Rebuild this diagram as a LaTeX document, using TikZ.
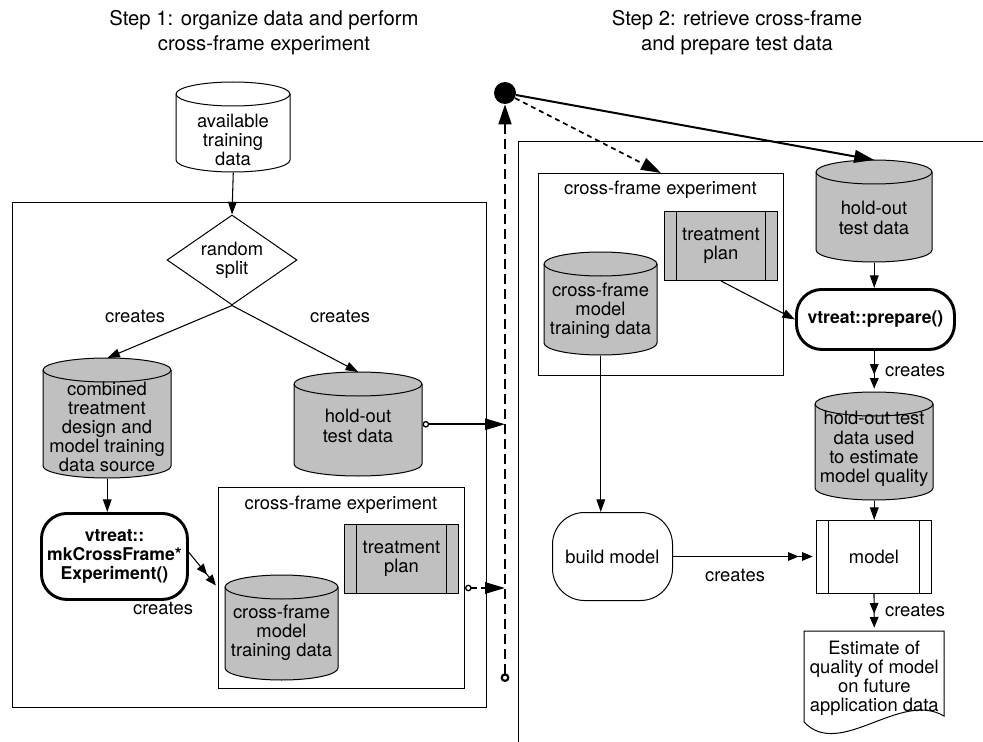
\documentclass[tikz,border=0pt]{standalone}
\usepackage{fontspec}
\setmainfont{TeX Gyre Heros}
\usetikzlibrary{arrows.meta,shapes.geometric,calc}

\definecolor{storegray}{RGB}{192,192,192}

% rectangle node given by its corners in pixel units
\newcommand\pxnode[7]{%
  \pgfmathsetmacro\pxw{(#4-#2)*0.75}%
  \pgfmathsetmacro\pxh{(#5-#3)*0.75}%
  \node[#6, minimum width=\pxw pt, minimum height=\pxh pt, anchor=north west] (#1) at (#2,#3) {#7};%
}

% data store (cylinder): name, x1, top, x2, bottom, fill, text y, text
\newcommand\store[8]{%
  \pgfmathsetmacro\strx{(#4-#2)/2}%
  \pgfmathsetmacro\stcx{(#4+#2)/2}%
  \draw[frame, fill=#6] (#2,#3+12) -- (#2,#5-12)
     arc[start angle=180, end angle=0, x radius=\strx, y radius=12]
     -- (#4,#3+12)
     arc[start angle=0, end angle=-180, x radius=\strx, y radius=12] -- cycle;
  \draw[frame] (#2,#3+12) arc[start angle=180, end angle=0, x radius=\strx, y radius=12];
  \pxnode{#1}{#2}{#3}{#4}{#5}{}{}%
  \node (#1-text) at (\stcx,#7) {#8};%
}

\tikzset{
  every node/.style={inner sep=0pt, align=center, font=\fontsize{13.8}{14.4}\selectfont},
  heading/.style={font=\fontsize{15.2}{18.75}\selectfont},
  frame/.style={draw=black, line width=0.75pt},
  action/.style={draw=black, line width=2.2pt, rounded corners=19pt, fill=white,
    font=\bfseries\fontsize{13.2}{14.6}\selectfont},
  subproc/.style={frame, path picture={
    \draw[line width=0.75pt]
      ([xshift=9pt]path picture bounding box.north west) -- ([xshift=9pt]path picture bounding box.south west)
      ([xshift=-9pt]path picture bounding box.north east) -- ([xshift=-9pt]path picture bounding box.south east);}},
  flow/.style={line width=0.8pt, -{Triangle[length=9.5pt,width=6.5pt]}},
  makes/.style={line width=0.8pt,
    -{Triangle[length=8pt,width=6.5pt,sep=2.5pt] Triangle[length=8pt,width=6.5pt,sep=2.5pt]}},
  feed/.style={line width=1.5pt,
    {Circle[open,length=5pt,line width=1pt,sep=0pt]}-{Triangle[length=15pt,width=8.5pt]}},
  bus/.style={line width=1.9pt, dash pattern=on 7.5pt off 3.75pt,
    {Circle[open,length=6.5pt,line width=1.6pt]}-{Triangle[length=15pt,width=9.5pt]}},
  relay/.style={line width=1.3pt, dash pattern=on 3.75pt off 3pt, -{Triangle[length=15pt,width=9.5pt]}},
  fetch/.style={line width=1.5pt, -{Triangle[length=15pt,width=9.5pt]}},
}

\begin{document}
\begin{tikzpicture}[x=0.75pt,y=-0.75pt]
\fill[white] (0,0) rectangle (983,742);
\useasboundingbox (0,0) rectangle (983,742);

% headings
\node[heading] (head1) at (264,33) {Step 1: organize data and perform\\cross-frame experiment};
\node[heading] (head2) at (737,33) {Step 2: retrieve cross-frame\\and prepare test data};

% step frames
\pxnode{stepA}{12}{202}{486}{707}{frame}{}
\begin{scope}
  \clip (0,0) rectangle (983,742);
  \pxnode{stepB}{518}{141}{1000}{760}{frame}{}
\end{scope}

% ---------- step 1 ----------
\store{avail}{176}{82}{290}{172}{white}{140}{available\\training\\data}
\node[diamond, frame, fill=white, aspect=1.44, minimum width=97.5pt, minimum height=67.5pt]
  (split) at (232,260) {random\\split};

\store{comb}{43}{358}{171}{478}{storegray}{427}{combined\\treatment\\design and\\model training\\data source}
\store{holdL}{294}{372}{422}{476}{storegray}{426}{hold-out\\test data}

\pxnode{mk}{40}{512}{186}{598}{action}{vtreat::\\mkCrossFrame*\\Experiment()}

\pxnode{cfL}{218}{487}{464}{688}{frame}{}
\node (cfL-title) at (341,505) {cross-frame experiment};
\pxnode{trtL}{344}{524}{458}{593}{subproc, fill=storegray}{treatment\\plan}
\store{cfcL}{225}{575}{338}{680}{storegray}{633}{cross-frame\\model\\training data}

\node (lblA) at (135,316) {creates};
\node (lblB) at (340,316) {creates};
\node (lblC) at (163,608) {creates};

\draw[flow] (avail.south) -- (split.north);
\draw[flow] (split.south) -- (comb.north);
\draw[flow] (split.south) -- (holdL.north);
\draw[flow] (comb.south) -- (comb.south |- mk.north);
\draw[makes] ([yshift=3pt]mk.east) -- (cfL.west);

% ---------- hand-over ----------
\node[circle, fill=black, minimum size=16.5pt] (hub) at (505,93) {};
\coordinate (busfoot) at (505,682);
\draw[bus] (busfoot) -- (hub);
\draw[feed] (holdL.east) -- (holdL.east -| hub);
\draw[feed, dash pattern=on 4.5pt off 3pt] (cfL.east) -- (cfL.east -| hub);

% ---------- step 2 ----------
\pxnode{rcf}{538}{173}{783}{375}{frame}{}
\node (rcf-title) at (660.5,190) {cross-frame experiment};
\pxnode{trtR}{664}{211}{777}{280}{subproc, fill=storegray}{treatment\\plan}
\store{cfcR}{544}{252}{657}{355}{storegray}{311}{cross-frame\\model\\training data}

\store{holdR}{816}{160}{932}{262}{storegray}{218}{hold-out\\test data}
\pxnode{prep}{795}{288}{953}{348}{action}{vtreat::prepare()}
\store{used}{815}{392}{933}{500}{storegray}{449}{hold-out test\\data used\\to estimate\\model quality}

\pxnode{build}{552}{512}{672}{600}{frame, rounded corners=24pt}{build model}
\pxnode{model}{816}{520}{931}{593}{subproc, fill=white}{model}

\draw[frame, fill=white] (804,722) -- (804,631) -- (944,631) -- (944,716)
  .. controls (900,690) and (840,760) .. (804,722) -- cycle;
\pxnode{est}{804}{631}{944}{725}{}{Estimate of\\quality of model\\on future\\application data}

\node (lblD) at (915,370) {creates};
\node (lblE) at (735,575) {creates};
\node (lblF) at (915,610) {creates};

\draw[relay] (hub) -- (rcf.north);
\draw[fetch] (hub) -- (holdR.north);
\draw[flow] (holdR.south) -- (prep.north -| holdR.south);
\draw[flow] (trtR.south) -- (prep.west);
\draw[makes] (prep.south -| used.north) -- (used.north);
\draw[flow] (used.south) -- (model.north -| used.south);
\draw[flow] (cfcR.south) -- (cfcR.south |- build.north);
\draw[makes] (build.east) -- (build.east -| model.west);
\draw[makes] (model.south) -- (est.north);
\end{tikzpicture}
\end{document}
